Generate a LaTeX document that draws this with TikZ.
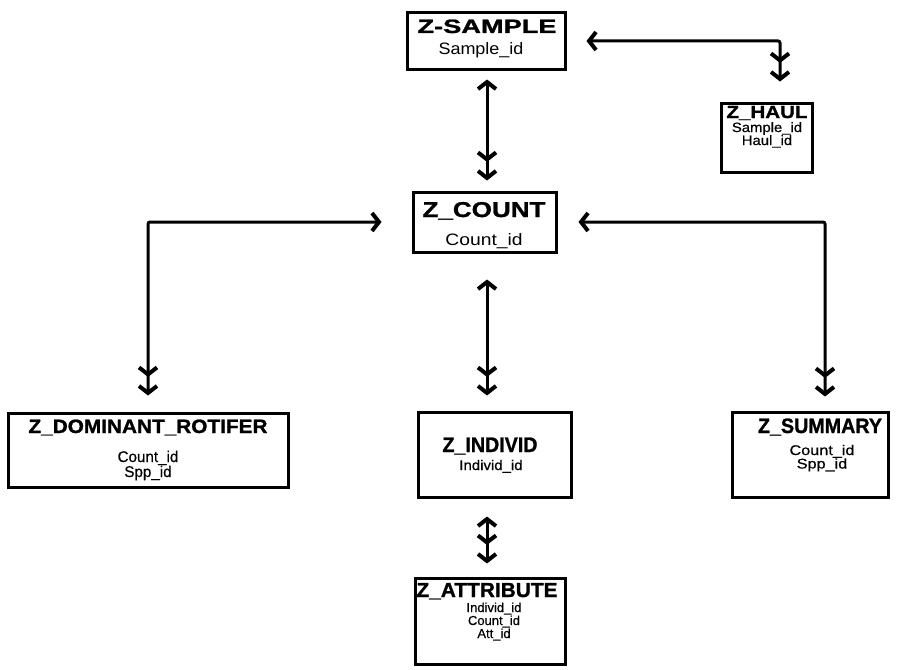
\documentclass[tikz,border=0pt]{standalone}
\usepackage{fontspec}
\usepackage{graphicx}
\setmainfont{Liberation Sans}
\newfontfamily\heavyfont{Liberation Sans}[BoldFeatures={FakeBold=1.2}]
\newfontfamily\semifont{Liberation Sans}[FakeBold=0.6]
\usetikzlibrary{arrows.meta}
\newcommand{\boxtitle}[3]{\resizebox{#1pt}{#2pt}{\heavyfont\bfseries #3}}
\newcommand{\boxid}[3]{\scalebox{#2}[1]{\fontsize{#1}{#1}\selectfont #3}}
\newcommand{\boxids}[3]{\scalebox{#2}[1]{\semifont\fontsize{#1}{#1}\selectfont #3}}
\tikzset{
  box/.style={draw, line width=3pt, inner sep=0pt},
  txt/.style={inner sep=0pt, anchor=base},
  conn/.style={line width=3pt, rounded corners=2pt,
    {Straight Barb[length=7pt,width=18pt,line width=4pt]}-{Straight Barb[length=7pt,width=18pt,line width=4pt,sep=7pt] Straight Barb[length=7pt,width=18pt,line width=4pt]}},
}
\begin{document}
\begin{tikzpicture}[x=1pt,y=-1pt]
\useasboundingbox (0,0) rectangle (912,669);
% boxes
\node[box, minimum width=158pt, minimum height=56pt] (zsample) at (486,41) {};
\node[box, minimum width=91pt, minimum height=69pt] (zhaul) at (766.5,137.5) {};
\node[box, minimum width=143pt, minimum height=60pt] (zcount) at (484.5,222) {};
\node[box, minimum width=280pt, minimum height=74pt] (zdom) at (148,450) {};
\node[box, minimum width=153pt, minimum height=85pt] (zind) at (494.5,454.5) {};
\node[box, minimum width=156pt, minimum height=85pt] (zsum) at (810,454.5) {};
\node[box, minimum width=150pt, minimum height=86pt] (zatt) at (490,621) {};
% texts
\node[txt] (zsampleT) at (487,33) {\boxtitle{139}{13.5}{Z-SAMPLE}};
\node[txt] (zsampleA) at (481,55) {\boxid{16.5}{1.09}{Sample\_id}};
\node[txt] (zcountT) at (484,217) {\boxtitle{123}{15}{Z\_COUNT}};
\node[txt] (zcountA) at (484,245) {\boxid{16.5}{1.17}{Count\_id}};
\node[txt] (zhaulT) at (767,118) {\boxtitle{81}{12}{Z\_HAUL}};
\node[txt] (zhaulA) at (767,132) {\boxids{13.5}{1.1}{Sample\_id}};
\node[txt] (zhaulB) at (767,145) {\boxids{13.5}{1.1}{Haul\_id}};
\node[txt] (zdomT) at (148,433) {\boxtitle{239}{13.5}{Z\_DOMINANT\_ROTIFER}};
\node[txt] (zdomA) at (148,462) {\boxids{15.5}{0.98}{Count\_id}};
\node[txt] (zdomB) at (148,477) {\boxids{15.5}{0.98}{Spp\_id}};
\node[txt] (zindT) at (490,452) {\boxtitle{95}{14.5}{Z\_INDIVID}};
\node[txt] (zindA) at (491,470) {\boxids{14}{1.07}{Individ\_id}};
\node[txt] (zsumT) at (820,433) {\boxtitle{124}{14.5}{Z\_SUMMARY}};
\node[txt] (zsumA) at (822,455) {\boxids{14}{1.16}{Count\_id}};
\node[txt] (zsumB) at (822,468.5) {\boxids{14}{1.16}{Spp\_id}};
\node[txt] (zattT) at (487,597) {\boxtitle{141}{14}{Z\_ATTRIBUTE}};
\node[txt] (zattA) at (494,612) {\boxids{13}{1}{Individ\_id}};
\node[txt] (zattB) at (494,625) {\boxids{13}{1}{Count\_id}};
\node[txt] (zattC) at (494,638) {\boxids{13}{1}{Att\_id}};
% connector guide columns
\coordinate (mx) at (487,0);
\coordinate (hx) at (780,0);
\coordinate (rx) at (825,0);
% connectors
\draw[conn, shorten <=9pt, shorten >=10pt] (zsample.south -| mx) -- (zcount.north -| mx);
\draw[conn, shorten <=20pt, shorten >=20pt] (zsample.east) -| (zhaul.north -| hx);
\draw[conn, shorten <=30pt, shorten >=16pt] (zcount.west) -| (zdom.north);
\draw[conn, shorten <=21pt, shorten >=14pt] (zcount.east) -| (zsum.north -| rx);
\draw[conn, shorten <=26pt, shorten >=15pt] (zcount.south -| mx) -- (zind.north -| mx);
\draw[conn, shorten <=18pt, shorten >=13pt] (zind.south -| mx) -- (zatt.north -| mx);
\end{tikzpicture}
\end{document}
